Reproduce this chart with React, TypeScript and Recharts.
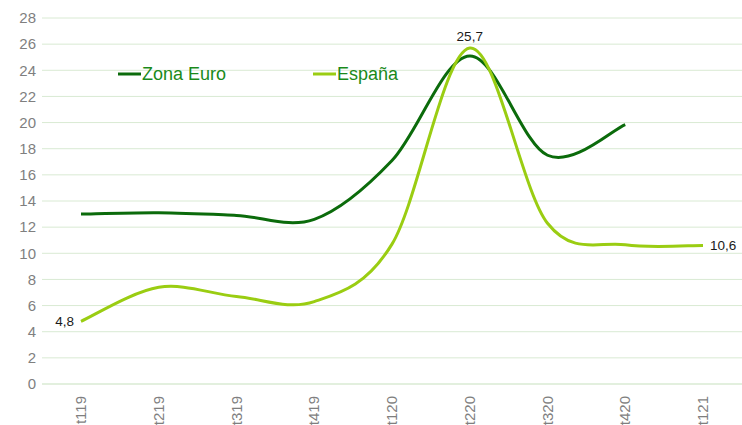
import React from 'react';
import { LineChart, Line, XAxis, YAxis, CartesianGrid, LabelList } from 'recharts';

const categories = ['t119', 't219', 't319', 't419', 't120', 't220', 't320', 't420', 't121'];
const zonaEuro: (number | null)[] = [13.0, 13.1, 12.9, 12.6, 17.1, 25.1, 17.5, 19.85, null];
const espana: number[] = [4.8, 7.4, 6.7, 6.3, 10.7, 25.7, 12.3, 10.65, 10.6];
const espanaLabels: (string | null)[] = ['4,8', null, null, null, null, '25,7', null, null, '10,6'];
const yTicks = [0, 2, 4, 6, 8, 10, 12, 14, 16, 18, 20, 22, 24, 26, 28];

const data = categories.map((c, i) => ({ cat: c, ze: zonaEuro[i], es: espana[i], lbl: espanaLabels[i] }));

const DARK = '#0b6b0b';
const LIGHT = '#9acd12';

// Catmull-Rom style smoothing similar to Excel smoothed lines
const smooth: any = (ctx: any) => {
  let pts: number[][] = [];
  return {
    areaStart() {},
    areaEnd() {},
    lineStart() { pts = []; },
    point(x: number, y: number) { pts.push([+x, +y]); },
    lineEnd() {
      if (!pts.length) return;
      ctx.moveTo(pts[0][0], pts[0][1]);
      for (let i = 0; i < pts.length - 1; i++) {
        const p0 = pts[i - 1] || pts[i];
        const p1 = pts[i];
        const p2 = pts[i + 1];
        const p3 = pts[i + 2] || p2;
        ctx.bezierCurveTo(
          p1[0] + (p2[0] - p0[0]) / 6, p1[1] + (p2[1] - p0[1]) / 6,
          p2[0] - (p3[0] - p1[0]) / 6, p2[1] - (p3[1] - p1[1]) / 6,
          p2[0], p2[1]
        );
      }
    },
  };
};

const XTick = (props: any) => {
  const { x, y, payload } = props;
  return (
    <text x={0} y={0} transform={`translate(${x + 5},${y + 4}) rotate(-90)`} textAnchor="end"
      fill="#7f7f7f" fontSize={15} fontFamily="Liberation Sans, Arial, sans-serif">
      {payload.value}
    </text>
  );
};

const EsLabel = (props: any) => {
  const { x, y, index } = props;
  const v = espanaLabels[index];
  if (!v) return null;
  let tx = x, ty = y, anchor: any = 'middle';
  if (index === 0) { tx = x - 7; ty = y + 5; anchor = 'end'; }
  else if (index === categories.length - 1) { tx = x + 7; ty = y + 5; anchor = 'start'; }
  else { ty = y - 7; }
  return (
    <text x={tx} y={ty} textAnchor={anchor} fill="#1a1a1a" fontSize={13.5}
      fontFamily="Liberation Sans, Arial, sans-serif">{v}</text>
  );
};

export default function App() {
  return (
    <div style={{ position: 'absolute', left: 0, top: 0, width: 742, height: 425, background: '#fff' }}>
      <LineChart width={742} height={425} data={data} margin={{ top: 18, right: 0, left: 0, bottom: 0 }}>
        <CartesianGrid vertical={false} stroke="#d9ead3" strokeWidth={1} />
        <XAxis dataKey="cat" interval={0} height={41} padding={{ left: 39, right: 39 }}
          axisLine={{ stroke: '#d9ead3' }} tickLine={false} tick={<XTick />} />
        <YAxis domain={[0, 28]} ticks={yTicks} width={42} axisLine={false} tickLine={false}
          tickSize={0} tickMargin={6} interval={0}
          tick={{ fill: '#7f7f7f', fontSize: 15, fontFamily: 'Liberation Sans, Arial, sans-serif' }} />
        <Line dataKey="ze" type={smooth} stroke={DARK} strokeWidth={3} dot={false} isAnimationActive={false} />
        <Line dataKey="es" type={smooth} stroke={LIGHT} strokeWidth={3} dot={false} isAnimationActive={false}>
          <LabelList dataKey="lbl" content={<EsLabel />} />
        </Line>
        <g>
          <line x1={118} y1={74} x2={141} y2={74} stroke={DARK} strokeWidth={3} />
          <text x={142} y={80} fill="#1a8a1a" fontSize={18} fontFamily="Liberation Sans, Arial, sans-serif">Zona Euro</text>
          <line x1={313} y1={74} x2={336} y2={74} stroke={LIGHT} strokeWidth={3} />
          <text x={337} y={80} fill="#1a8a1a" fontSize={18} fontFamily="Liberation Sans, Arial, sans-serif">España</text>
        </g>
      </LineChart>
    </div>
  );
}
